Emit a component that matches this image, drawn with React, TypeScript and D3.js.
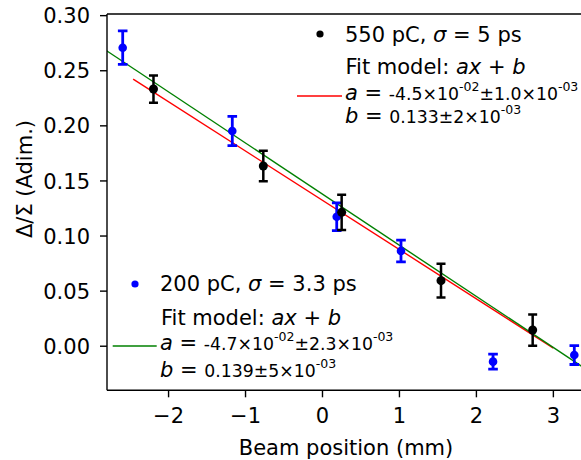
import React from "react";
import * as d3 from "d3";

const blackX = [-2.196, -0.769, 0.249, 1.54, 2.731];
const blackY = [0.2334, 0.1636, 0.1215, 0.0595, 0.0147];
const blackErr = [0.0124, 0.0138, 0.016, 0.0153, 0.0142];

const blueX = [-2.596, -1.172, 0.185, 1.02, 2.216, 3.272];
const blueY = [0.2709, 0.1953, 0.1175, 0.0864, -0.014, -0.008];
const blueErr = [0.0152, 0.0133, 0.0126, 0.0099, 0.0068, 0.0086];

const redFit = [-0.0447, 0.1324];
const redRange = [-2.46, 3.0];
const greenFit = [-0.0464, 0.138];
const greenRange = [-2.9, 3.6];

const xTicks = [-2, -1, 0, 1, 2, 3];
const yTicks = [0.0, 0.05, 0.1, 0.15, 0.2, 0.25, 0.3];

const FONT = "DejaVu Sans";

export default function App() {
  const W = 581, H = 460;
  const left = 107, right = 581, top = 14, bottom = 390.3;
  const x = d3.scaleLinear().domain([-2.8, 3.359]).range([left, right]);
  const y = d3.scaleLinear().domain([-0.04, 0.3015]).range([bottom, top]);

  const line = d3.line<number>().x((v) => x(v)).y((v) => 0);
  const fitPath = (fit: number[], range: number[]) =>
    d3.line<number>().x((v) => x(v)).y((v) => y(fit[0] * v + fit[1]))(range) || "";

  const errBars = (xs: number[], ys: number[], es: number[], color: string, lw: number, cap: number, r: number) =>
    xs.map((xv, i) => {
      const cx = x(xv);
      const y1 = y(ys[i] + es[i]);
      const y2 = y(ys[i] - es[i]);
      return (
        <g key={i}>
          <line x1={cx} x2={cx} y1={y1} y2={y2} stroke={color} strokeWidth={lw} />
          <line x1={cx - cap} x2={cx + cap} y1={y1} y2={y1} stroke={color} strokeWidth={lw} />
          <line x1={cx - cap} x2={cx + cap} y1={y2} y2={y2} stroke={color} strokeWidth={lw} />
          <circle cx={cx} cy={y(ys[i])} r={r} fill={color} />
        </g>
      );
    });

  const numSize = 17.3;
  const supSize = 12.5;

  return (
    <svg width={W} height={H} style={{ position: "absolute", left: 0, top: 0 }} fontFamily={FONT}>
      <rect width={W} height={H} fill="white" />
      <defs>
        <clipPath id="plot">
          <rect x={left} y={top} width={right - left + 5} height={bottom - top} />
        </clipPath>
      </defs>
      <g clipPath="url(#plot)">
        <path d={fitPath(redFit, redRange)} stroke="#ff0000" strokeWidth={1.4} fill="none" />
        <path d={fitPath(greenFit, greenRange)} stroke="#008000" strokeWidth={1.4} fill="none" />
        {errBars(blueX, blueY, blueErr, "#0000ff", 2.8, 4.8, 4.3)}
        {errBars(blackX, blackY, blackErr, "#000000", 2.5, 4.5, 4.5)}
      </g>
      {/* spines */}
      <line x1={left} x2={left} y1={top} y2={bottom} stroke="#000" strokeWidth={1.4} />
      <line x1={left} x2={W} y1={bottom} y2={bottom} stroke="#000" strokeWidth={1.4} />
      <line x1={left} x2={W} y1={top} y2={top} stroke="#000" strokeWidth={1.4} />
      {/* x ticks */}
      {xTicks.map((t) => (
        <g key={t}>
          <line x1={x(t)} x2={x(t)} y1={bottom} y2={bottom + 7} stroke="#000" strokeWidth={1.4} />
          <text x={x(t)} y={423} fontSize={21} textAnchor="middle" fill="#000">
            {t < 0 ? "\u2212" + Math.abs(t) : String(t)}
          </text>
        </g>
      ))}
      {yTicks.map((t) => (
        <g key={t}>
          <line x1={left - 7} x2={left} y1={y(t)} y2={y(t)} stroke="#000" strokeWidth={1.4} />
          <text x={90} y={y(t) + 7.6} fontSize={21} textAnchor="end" fill="#000">
            {t.toFixed(2)}
          </text>
        </g>
      ))}
      <text x={346} y={455} fontSize={21} textAnchor="middle" fill="#000">
        Beam position (mm)
      </text>
      <text transform="translate(32,179) rotate(-90)" fontSize={21} textAnchor="middle" fill="#000">
        Δ/Σ (Adim.)
      </text>

      {/* legend 1 */}
      <circle cx={320} cy={34} r={3.6} fill="#000" />
      <text x={345} y={42} fontSize={21} fill="#000">
        550 pC, <tspan fontStyle="italic">σ</tspan> = 5 ps
      </text>
      <text x={345.5} y={74} fontSize={21} fill="#000">
        Fit model: <tspan fontStyle="italic">ax</tspan> + <tspan fontStyle="italic">b</tspan>
      </text>
      <line x1={297} x2={342} y1={96} y2={96} stroke="#ff0000" strokeWidth={1.4} />
      <text x={345} y={100} fontSize={21} fill="#000">
        <tspan fontStyle="italic">a</tspan> = <tspan fontSize={numSize}>-4.5×10</tspan>
        <tspan fontSize={supSize} dy={-9}>-02</tspan>
        <tspan fontSize={numSize} dy={9}>±1.0×10</tspan>
        <tspan fontSize={supSize} dy={-9}>-03</tspan>
      </text>
      <text x={345} y={123} fontSize={21} fill="#000">
        <tspan fontStyle="italic">b</tspan> = <tspan fontSize={numSize}>0.133±2×10</tspan>
        <tspan fontSize={supSize} dy={-9}>-03</tspan>
      </text>

      {/* legend 2 */}
      <circle cx={135} cy={284} r={3.6} fill="#0000ff" />
      <text x={160} y={291} fontSize={21} fill="#000">
        200 pC, <tspan fontStyle="italic">σ</tspan> = 3.3 ps
      </text>
      <text x={161} y={325} fontSize={21} fill="#000">
        Fit model: <tspan fontStyle="italic">ax</tspan> + <tspan fontStyle="italic">b</tspan>
      </text>
      <line x1={112.7} x2={156.7} y1={346} y2={346} stroke="#008000" strokeWidth={1.4} />
      <text x={160} y={350} fontSize={21} fill="#000">
        <tspan fontStyle="italic">a</tspan> = <tspan fontSize={numSize}>-4.7×10</tspan>
        <tspan fontSize={supSize} dy={-9}>-02</tspan>
        <tspan fontSize={numSize} dy={9}>±2.3×10</tspan>
        <tspan fontSize={supSize} dy={-9}>-03</tspan>
      </text>
      <text x={160} y={377} fontSize={21} fill="#000">
        <tspan fontStyle="italic">b</tspan> = <tspan fontSize={numSize}>0.139±5×10</tspan>
        <tspan fontSize={supSize} dy={-9}>-03</tspan>
      </text>
    </svg>
  );
}
